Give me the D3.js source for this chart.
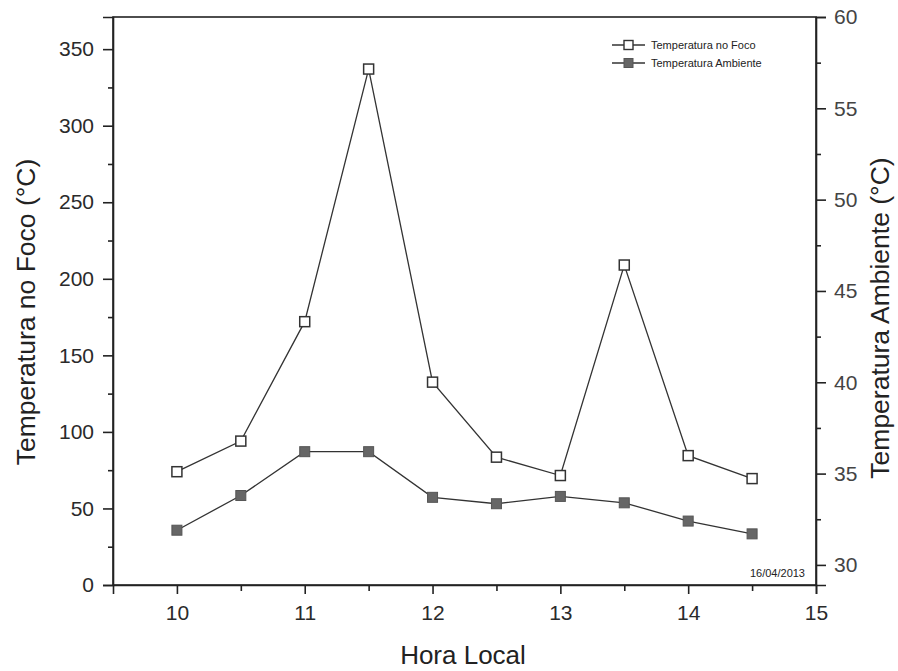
<!DOCTYPE html>
<html><head><meta charset="utf-8">
<script src="https://cdn.jsdelivr.net/npm/d3@7"></script>
<style>body{margin:0;background:#fff;}svg{display:block;font-family:"Liberation Sans",Arial,sans-serif;}</style>
</head><body>
<svg id="c" width="898" height="671"></svg>
<script>
const hours = [10, 10.5, 11, 11.5, 12, 12.5, 13, 13.5, 14, 14.5];
const focoTemp = [74, 94, 172, 337, 132.5, 83.5, 71.5, 209, 84.5, 69.5];
const ambTemp = [31.9, 33.8, 36.2, 36.2, 33.7, 33.35, 33.75, 33.4, 32.4, 31.7];
const xTicks = [10, 11, 12, 13, 14, 15];
const xMinor = [10.5, 11.5, 12.5, 13.5, 14.5];
const yLeftTicks = [0, 50, 100, 150, 200, 250, 300, 350];
const yLeftMinor = [25, 75, 125, 175, 225, 275, 325];
const yRightTicks = [30, 35, 40, 45, 50, 55, 60];
const yRightMinor = [32.5, 37.5, 42.5, 47.5, 52.5, 57.5];
const seriesNames = ["Temperatura no Foco", "Temperatura Ambiente"];
const dateLabel = "16/04/2013";

const svg = d3.select("#c");
const L = 113, R = 816, T = 17, B = 585;
const x = d3.scaleLinear().domain([9.5, 15]).range([L, R]);
const yL = d3.scaleLinear().domain([0, 371]).range([B, T]);
const yR = d3.scaleLinear().domain([28.9, 60]).range([B, T]);
const ink = "#222";

// frame
svg.append("rect").attr("x", L).attr("y", T).attr("width", R - L).attr("height", B - T)
  .attr("fill", "none").attr("stroke", ink).attr("stroke-width", 1.6);

function styleAxis(g, size) {
  g.select(".domain").attr("stroke", ink).attr("stroke-width", 1.6);
  g.selectAll(".tick line").attr("stroke", ink).attr("stroke-width", 1.6);
  g.selectAll(".tick text").attr("fill", "#2a2a2a").style("font-size", size + "px");
}

// bottom axis
const gx = svg.append("g").attr("transform", `translate(0,${B})`)
  .call(d3.axisBottom(x).tickValues(xTicks).tickSize(9).tickPadding(11).tickFormat(d3.format("d")));
styleAxis(gx, 21);
svg.append("g").attr("transform", `translate(0,${B})`)
  .call(d3.axisBottom(x).tickValues(xMinor).tickSize(6).tickFormat(""))
  .call(g => { g.select(".domain").remove(); g.selectAll("line").attr("stroke", ink).attr("stroke-width", 1.6); });

// left axis
const gl = svg.append("g").attr("transform", `translate(${L},0)`)
  .call(d3.axisLeft(yL).tickValues(yLeftTicks).tickSize(10).tickPadding(9).tickFormat(d3.format("d")));
styleAxis(gl, 21);
svg.append("g").attr("transform", `translate(${L},0)`)
  .call(d3.axisLeft(yL).tickValues(yLeftMinor).tickSize(5).tickFormat(""))
  .call(g => { g.select(".domain").remove(); g.selectAll("line").attr("stroke", ink).attr("stroke-width", 1.6); });

// right axis
const gr = svg.append("g").attr("transform", `translate(${R},0)`)
  .call(d3.axisRight(yR).tickValues(yRightTicks).tickSize(10).tickPadding(8).tickFormat(d3.format("d")));
styleAxis(gr, 21);
gr.selectAll(".tick text").attr("fill", "#444");
svg.append("g").attr("transform", `translate(${R},0)`)
  .call(d3.axisRight(yR).tickValues(yRightMinor).tickSize(5).tickFormat(""))
  .call(g => { g.select(".domain").remove(); g.selectAll("line").attr("stroke", ink).attr("stroke-width", 1.6); });

// axis titles
svg.append("text").attr("x", 463).attr("y", 664).attr("text-anchor", "middle")
  .style("font-size", "26px").attr("fill", "#222").text("Hora Local");
svg.append("text").attr("transform", `translate(35,312) rotate(-90)`).attr("text-anchor", "middle")
  .style("font-size", "26.5px").attr("fill", "#222").text("Temperatura no Foco (°C)");
svg.append("text").attr("transform", `translate(889,318) rotate(-90)`).attr("text-anchor", "middle")
  .style("font-size", "26.5px").attr("fill", "#222").text("Temperatura Ambiente (°C)");

// lines
const lineF = d3.line().x((d, i) => x(hours[i])).y(d => yL(d));
const lineA = d3.line().x((d, i) => x(hours[i])).y(d => yR(d));
svg.append("path").datum(focoTemp).attr("d", lineF).attr("fill", "none").attr("stroke", "#333").attr("stroke-width", 1.3);
svg.append("path").datum(ambTemp).attr("d", lineA).attr("fill", "none").attr("stroke", "#333").attr("stroke-width", 1.3);

const ms = 10;
svg.append("g").selectAll("rect").data(focoTemp).join("rect")
  .attr("x", (d, i) => x(hours[i]) - ms / 2).attr("y", d => yL(d) - ms / 2)
  .attr("width", ms).attr("height", ms).attr("fill", "#fff").attr("stroke", "#333").attr("stroke-width", 1.5);
svg.append("g").selectAll("rect").data(ambTemp).join("rect")
  .attr("x", (d, i) => x(hours[i]) - ms / 2).attr("y", d => yR(d) - ms / 2)
  .attr("width", ms).attr("height", ms).attr("fill", "#666").attr("stroke", "#555").attr("stroke-width", 1);

// legend
const leg = svg.append("g");
seriesNames.forEach((name, i) => {
  const yy = 45 + i * 18;
  leg.append("line").attr("x1", 612).attr("x2", 645).attr("y1", yy).attr("y2", yy).attr("stroke", "#333").attr("stroke-width", 1.3);
  leg.append("rect").attr("x", 624).attr("y", yy - 4.5).attr("width", 9).attr("height", 9)
    .attr("fill", i === 0 ? "#fff" : "#666").attr("stroke", i === 0 ? "#333" : "#555").attr("stroke-width", i === 0 ? 1.4 : 1);
  leg.append("text").attr("x", 651).attr("y", yy + 4).style("font-size", "11px").attr("fill", "#222").text(name);
});

svg.append("text").attr("x", 805).attr("y", 577).attr("text-anchor", "end")
  .style("font-size", "11px").attr("fill", "#222").text(dateLabel);
</script>
</body></html>
